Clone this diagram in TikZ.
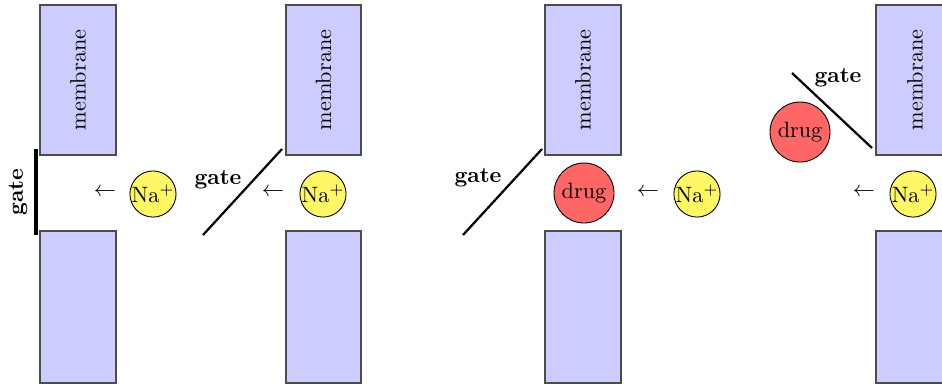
\documentclass[tikz,border=0pt]{standalone}
\begin{document}
\begin{tikzpicture}[x=0.45pt,y=-0.45pt,
  memb/.style={draw=black!70, fill=blue!20, line width=0.5pt},
  ion/.style={circle, draw=black, fill=yellow!60, line width=0.4pt, minimum size=46*0.45pt, inner sep=0pt},
  drugc/.style={circle, draw=black, fill=red!60, line width=0.4pt, minimum size=60*0.45pt, inner sep=0pt},
  gatelbl/.style={font=\bfseries},
  gateline/.style={line width=1pt},
  arr/.style={inner sep=0pt}]
\useasboundingbox (0,0) rectangle (942,388);
\clip (0,0) rectangle (942,388);
% panel 1
\draw[memb] (40,5) rectangle (116,155) node[midway, rotate=90] {membrane};
\draw[memb] (40,231) rectangle (116,383);
\coordinate (g1a) at (36,149);
\coordinate (g1b) at (36,235);
\draw[line width=1.4pt] (g1a) -- (g1b);
\node[gatelbl, rotate=90] (gl1) at (18,192) {gate};
\node[arr] (a1) at (105,192) {$\leftarrow$};
\node[ion] (na1) at (153,194) {Na$^+$};
% panel 2
\draw[memb] (286,5) rectangle (361,155) node[midway, rotate=90] {membrane};
\draw[memb] (286,231) rectangle (361,383);
\coordinate (g2a) at (282,149);
\coordinate (g2b) at (203,235);
\draw[gateline] (g2a) -- (g2b);
\node[gatelbl] (gl2) at (218,180) {gate};
\node[arr] (a2) at (273,192) {$\leftarrow$};
\node[ion] (na2) at (323,194) {Na$^+$};
% panel 3
\draw[memb] (545,5) rectangle (621,155) node[midway, rotate=90] {membrane};
\draw[memb] (545,231) rectangle (621,383);
\coordinate (g3a) at (542,149);
\coordinate (g3b) at (463,235);
\draw[gateline] (g3a) -- (g3b);
\node[gatelbl] (gl3) at (478,178) {gate};
\node[drugc] (d3) at (584,193) {drug};
\node[arr] (a3) at (648,192) {$\leftarrow$};
\node[ion] (na3) at (697,194) {Na$^+$};
% panel 4
\draw[memb] (876,5) rectangle (960,155) node[pos=0.5, xshift=0pt] (m4) {};
\node[rotate=90] at (915,80) {membrane};
\draw[memb] (876,231) rectangle (960,383);
\coordinate (g4a) at (792,73);
\coordinate (g4b) at (872,148);
\draw[gateline] (g4a) -- (g4b);
\node[gatelbl] (gl4) at (838,78) {gate};
\node[drugc] (d4) at (800,132) {drug};
\node[arr] (a4) at (864,192) {$\leftarrow$};
\node[ion] (na4) at (913,194) {Na$^+$};
\end{tikzpicture}
\end{document}
